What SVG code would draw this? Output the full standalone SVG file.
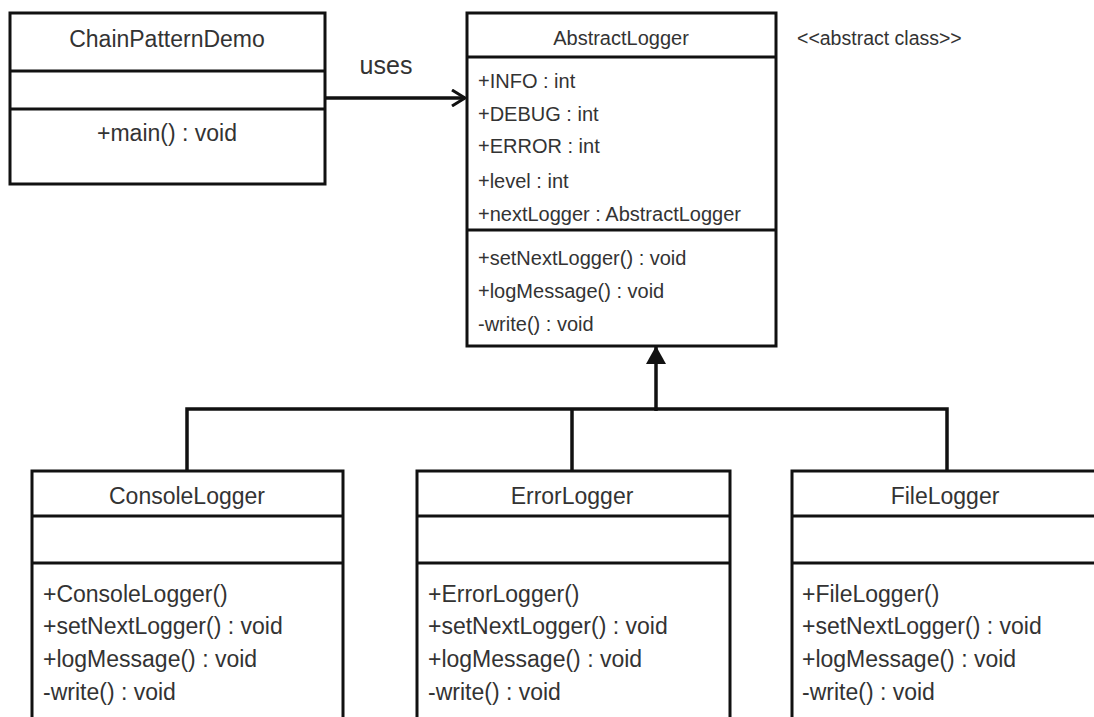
<svg xmlns="http://www.w3.org/2000/svg" width="1094" height="717" viewBox="0 0 1094 717">
<defs>
<style>
.box{fill:#fff;stroke:#111;stroke-width:3}
.div{stroke:#111;stroke-width:3}
.conn{fill:none;stroke:#111;stroke-width:3.5}
text{font-family:"Liberation Sans",Arial,sans-serif;fill:#333}
.t23{font-size:23px}
.t20{font-size:20px}
.mid{text-anchor:middle}
</style>
<marker id="open" viewBox="0 0 16 18" refX="14" refY="9" markerWidth="16" markerHeight="18" markerUnits="userSpaceOnUse" orient="auto">
<path d="M1,1 L14,9 L1,17" fill="none" stroke="#111" stroke-width="3"/>
</marker>
<marker id="solid" viewBox="0 0 18 20" refX="17" refY="10" markerWidth="18" markerHeight="20" markerUnits="userSpaceOnUse" orient="auto">
<path d="M0,0 L18,10 L0,20 Z" fill="#111"/>
</marker>
</defs>
<rect width="1094" height="717" fill="#fff"/>

<g id="connectors">
<line class="conn" x1="325" y1="98" x2="465" y2="98" marker-end="url(#open)"/>
<text x="386" y="74" class="mid" style="font-size:25px">uses</text>
<polyline class="conn" points="187,471 187,409 947,409 947,471"/>
<line class="conn" x1="572" y1="409" x2="572" y2="471"/>
<line class="conn" x1="656" y1="411" x2="656" y2="347" stroke-width="4.5" marker-end="url(#solid)"/>
</g>

<g id="ChainPatternDemo">
<rect class="box" x="10" y="13" width="315" height="171"/>
<line class="div" x1="10" y1="71" x2="325" y2="71"/>
<line class="div" x1="10" y1="109" x2="325" y2="109"/>
<text x="167" y="47" class="t23 mid">ChainPatternDemo</text>
<text x="167" y="141" class="t23 mid">+main()  : void</text>
</g>

<g id="AbstractLogger">
<rect class="box" x="467" y="13" width="309" height="333"/>
<line class="div" x1="467" y1="57" x2="776" y2="57"/>
<line class="div" x1="467" y1="230" x2="776" y2="230"/>
<text x="621" y="45" class="t20 mid">AbstractLogger</text>
<text x="478" y="88" class="t20">+INFO : int</text>
<text x="478" y="121" class="t20">+DEBUG : int</text>
<text x="478" y="153" class="t20">+ERROR : int</text>
<text x="478" y="188" class="t20">+level : int</text>
<text x="478" y="221" class="t20">+nextLogger : AbstractLogger</text>
<text x="478" y="265" class="t20">+setNextLogger()  : void</text>
<text x="478" y="298" class="t20">+logMessage()  : void</text>
<text x="478" y="331" class="t20">-write() : void</text>
<text x="797" y="45" style="font-size:19.5px">&lt;&lt;abstract class&gt;&gt;</text>
</g>

<g id="ConsoleLogger">
<rect class="box" x="32" y="471" width="311" height="260"/>
<line class="div" x1="32" y1="516" x2="343" y2="516"/>
<line class="div" x1="32" y1="563" x2="343" y2="563"/>
<text x="187" y="504" class="t23 mid">ConsoleLogger</text>
<text x="43" y="602" class="t23">+ConsoleLogger()</text>
<text x="43" y="634" class="t23">+setNextLogger()  : void</text>
<text x="43" y="667" class="t23">+logMessage()  : void</text>
<text x="43" y="700" class="t23">-write() : void</text>
</g>

<g id="ErrorLogger">
<rect class="box" x="417" y="471" width="313" height="260"/>
<line class="div" x1="417" y1="516" x2="730" y2="516"/>
<line class="div" x1="417" y1="563" x2="730" y2="563"/>
<text x="572" y="504" class="t23 mid">ErrorLogger</text>
<text x="428" y="602" class="t23">+ErrorLogger()</text>
<text x="428" y="634" class="t23">+setNextLogger()  : void</text>
<text x="428" y="667" class="t23">+logMessage()  : void</text>
<text x="428" y="700" class="t23">-write() : void</text>
</g>

<g id="FileLogger">
<rect class="box" x="792" y="471" width="320" height="260"/>
<line class="div" x1="792" y1="516" x2="1112" y2="516"/>
<line class="div" x1="792" y1="563" x2="1112" y2="563"/>
<text x="945" y="504" class="t23 mid">FileLogger</text>
<text x="802" y="602" class="t23">+FileLogger()</text>
<text x="802" y="634" class="t23">+setNextLogger()  : void</text>
<text x="802" y="667" class="t23">+logMessage()  : void</text>
<text x="802" y="700" class="t23">-write() : void</text>
</g>
</svg>
